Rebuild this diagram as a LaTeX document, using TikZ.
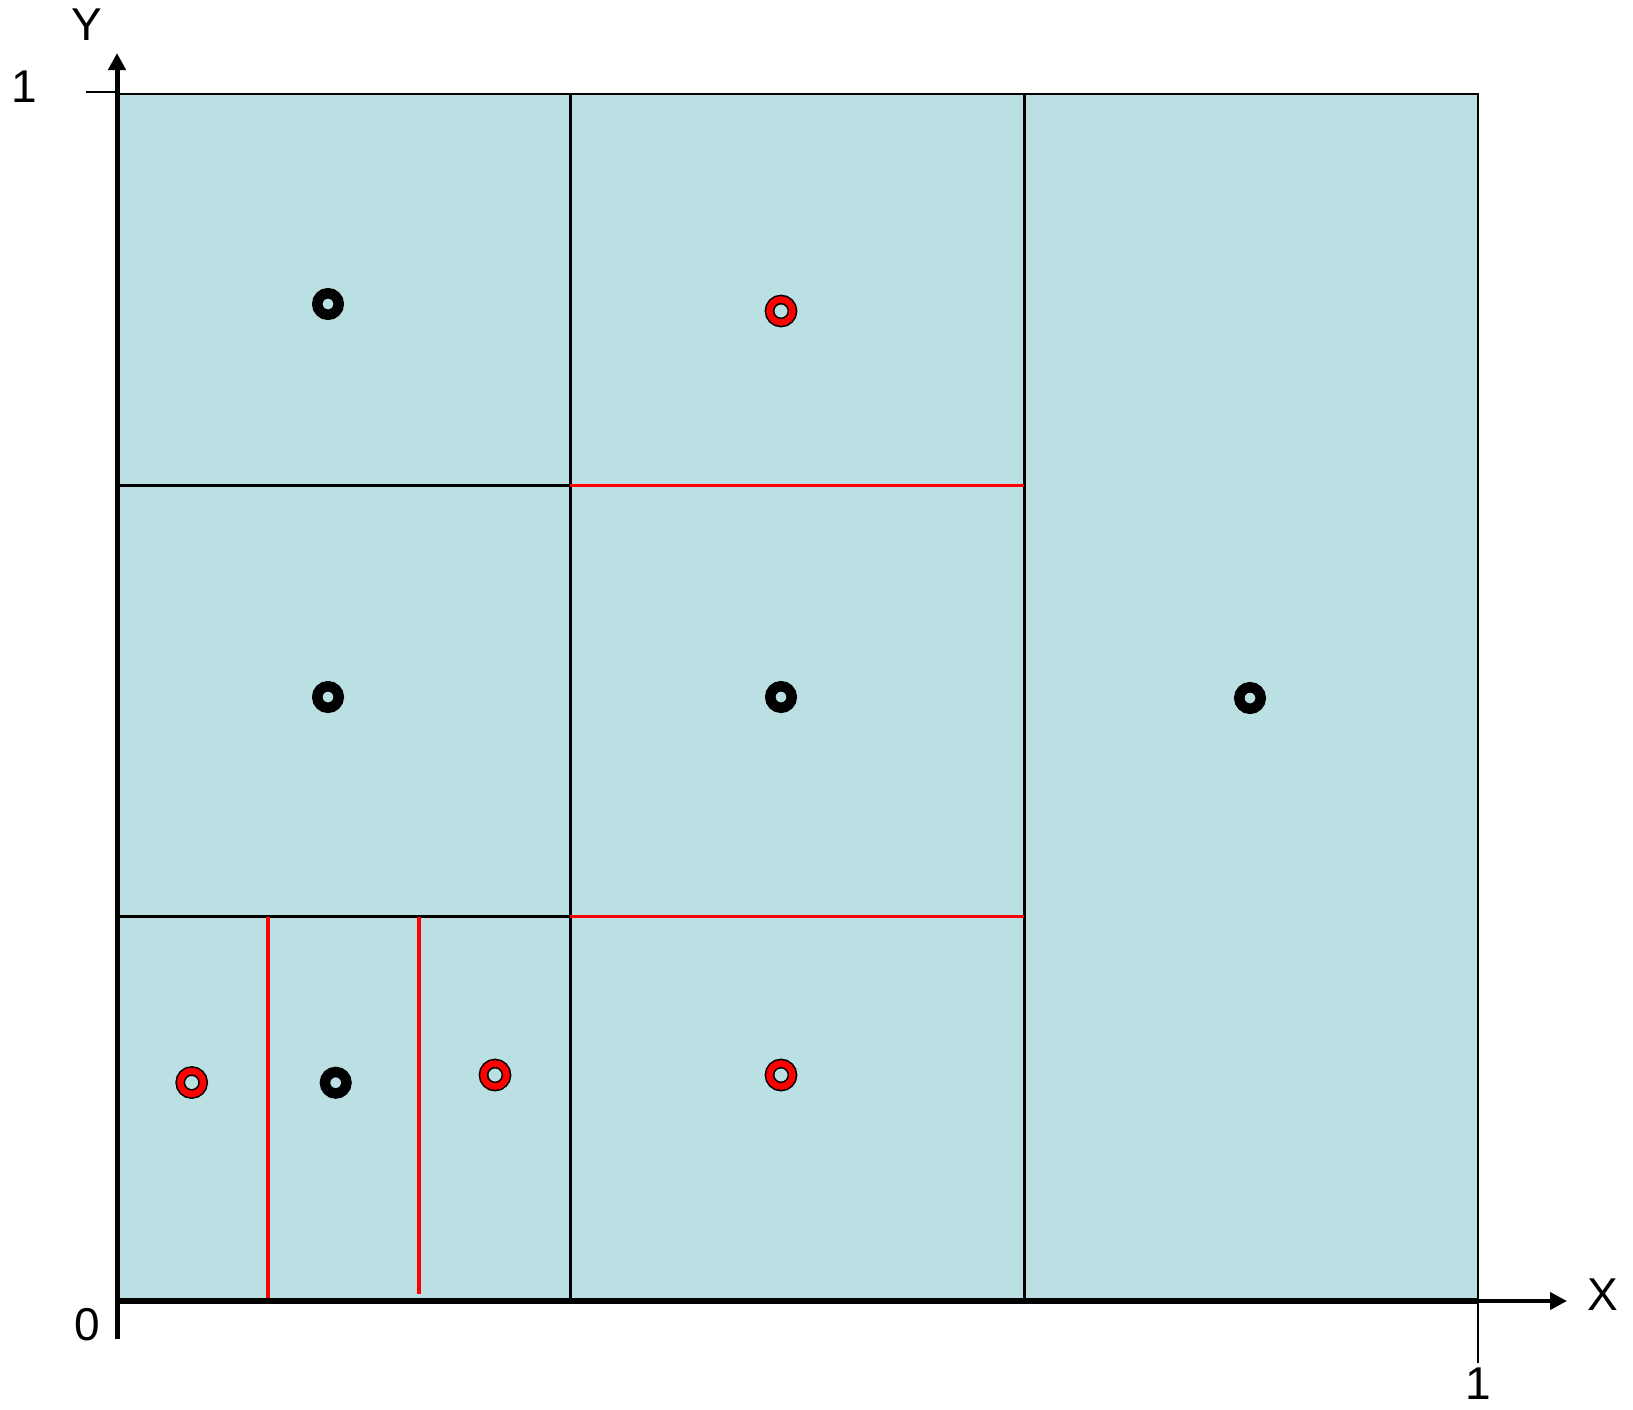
\documentclass[tikz,border=0pt]{standalone}
\usepackage{fontspec}
\setmainfont{Liberation Sans}
\usetikzlibrary{arrows.meta}
\definecolor{cellblue}{RGB}{187,224,227}
\tikzset{
  bd/.style = {draw=black, line width=2.2pt},
  gl/.style = {draw=black, line width=3pt},
  rl/.style = {draw=red, line width=3.3pt},
  ax/.style = {-{Triangle[length=17pt,width=17pt]}, line width=5pt},
  tk/.style = {draw=black, line width=1.8pt},
  pk/.style = {circle, draw=black, fill=cellblue, line width=10.5pt,
    minimum size=21.5pt, inner sep=0pt},
  pr/.style = {circle, draw=black, double=red, double distance=6.5pt,
    line width=1.6pt, fill=cellblue, minimum size=23pt, inner sep=0pt},
  lb/.style = {font=\fontsize{46}{46}\selectfont, inner sep=0pt}
}

\begin{document}
\begin{tikzpicture}[x=1pt, y=-1pt]
  \useasboundingbox (0,0) rectangle (1633,1409);
  % unit square
  \coordinate (o) at (117,1301);
  \coordinate (tl) at (117,94);
  \coordinate (tr) at (1478,94);
  \coordinate (br) at (1478,1301);
  \fill[cellblue] (o) rectangle (tr);
  \draw[bd] (tl) -- (tr) -- (br);
  % cells
  \coordinate (a1) at (570,94);   \coordinate (a2) at (570,1301);
  \coordinate (b1) at (1024,94);  \coordinate (b2) at (1024,1301);
  \coordinate (h1l) at (117,485.5); \coordinate (h1m) at (570,485.5);
  \coordinate (h1r) at (1024,485.5);
  \coordinate (h2l) at (117,916.5); \coordinate (h2m) at (570,916.5);
  \coordinate (h2r) at (1024,916.5);
  \coordinate (r1t) at (268,916.5); \coordinate (r1b) at (268,1301);
  \coordinate (r2t) at (419,916.5); \coordinate (r2b) at (419,1294);
  \draw[gl] (a1) -- (a2);
  \draw[gl] (b1) -- (b2);
  \draw[gl] (h1l) -- (h1m);
  \draw[gl] (h2l) -- (h2m);
  \draw[rl] (h1m) -- (h1r);
  \draw[rl] (h2m) -- (h2r);
  \draw[rl] (r1t) -- (r1b);
  \draw[rl] (r2t) -- (r2b);
  % axes
  \coordinate (ybot) at (117,1339);
  \coordinate (ytop) at (117,53);
  \coordinate (xend) at (1567,1301);
  \coordinate (yt) at (86,92);
  \coordinate (xt) at (1478,1363);
  \draw[line width=6pt] (o) -- (br);
  \draw[ax, line width=4pt] (o) -- (xend);
  \draw[ax] (ybot) -- (ytop);
  \draw[tk] (yt) -- (117,92);
  \draw[tk] (br) -- (xt);
  % points
  \node[pk] (p1) at (328,304) {};
  \node[pr] (p2) at (781,311) {};
  \node[pk] (p3) at (328,697) {};
  \node[pk] (p4) at (781,697) {};
  \node[pk] (p5) at (1250,698) {};
  \node[pr] (p6) at (191.7,1082.5) {};
  \node[pk] (p7) at (335.7,1082.7) {};
  \node[pr] (p8) at (495,1075) {};
  \node[pr] (p9) at (781,1075) {};
  % labels
  \node[lb] (ly) at (87,25) {Y};
  \node[lb] (l1y) at (24,87) {1};
  \node[lb] (l0) at (87,1325) {0};
  \node[lb] (lx) at (1603,1295) {X};
  \node[lb] (l1x) at (1478,1384) {1};
\end{tikzpicture}
\end{document}
